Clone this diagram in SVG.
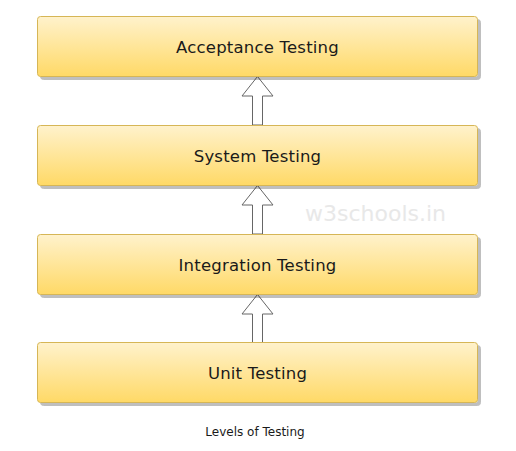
<svg xmlns="http://www.w3.org/2000/svg" width="516" height="451" viewBox="0 0 516 451">
<defs>
<linearGradient id="g" x1="0" y1="0" x2="0" y2="1">
<stop offset="0" stop-color="#fff2cc"/>
<stop offset="1" stop-color="#ffd966"/>
</linearGradient>
<filter id="sh" x="-5%" y="-10%" width="110%" height="130%">
<feOffset dx="3" dy="3" in="SourceAlpha" result="o"/>
<feFlood flood-color="#000" flood-opacity="0.25"/>
<feComposite in2="o" operator="in" result="s"/>
<feMerge><feMergeNode in="s"/><feMergeNode in="SourceGraphic"/></feMerge>
</filter>
</defs>
<style>
.box{fill:url(#g);stroke:#d6b656;stroke-width:1;filter:url(#sh)}
.lbl{font-family:"DejaVu Sans",Verdana,sans-serif;font-size:16.5px;letter-spacing:0.2px;fill:#1a1a1a;text-anchor:middle}
.arr{fill:#fff;stroke:#666;stroke-width:1}
.cap{font-family:"DejaVu Sans",Verdana,sans-serif;font-size:12px;fill:#1a1a1a;text-anchor:middle}
.wm{font-family:"DejaVu Sans",Verdana,sans-serif;font-size:22px;fill:#e8e8e8}
</style>
<rect width="516" height="451" fill="#fff"/>
<text class="wm" x="305" y="221">w3schools.in</text>
<g id="connectors">
<path class="arr" d="M252.5,125 V96 H242 L257.5,76.5 L273,96 H262.5 V125 Z"/>
<path class="arr" d="M252.5,234 V205 H242 L257.5,185.5 L273,205 H262.5 V234 Z"/>
<path class="arr" d="M252.5,343 V314 H242 L257.5,294.5 L273,314 H262.5 V343 Z"/>
</g>
<g id="acceptance">
<rect class="box" x="37.5" y="16.5" width="440" height="60" rx="3"/>
<text class="lbl" x="257.5" y="53">Acceptance Testing</text>
</g>
<g id="system">
<rect class="box" x="37.5" y="125.5" width="440" height="60" rx="3"/>
<text class="lbl" x="257.5" y="162">System Testing</text>
</g>
<g id="integration">
<rect class="box" x="37.5" y="234.5" width="440" height="60" rx="3"/>
<text class="lbl" x="257.5" y="271">Integration Testing</text>
</g>
<g id="unit">
<rect class="box" x="37.5" y="342.5" width="440" height="60" rx="3"/>
<text class="lbl" x="257.5" y="379">Unit Testing</text>
</g>
<text id="caption" class="cap" x="255" y="436">Levels of Testing</text>
</svg>
